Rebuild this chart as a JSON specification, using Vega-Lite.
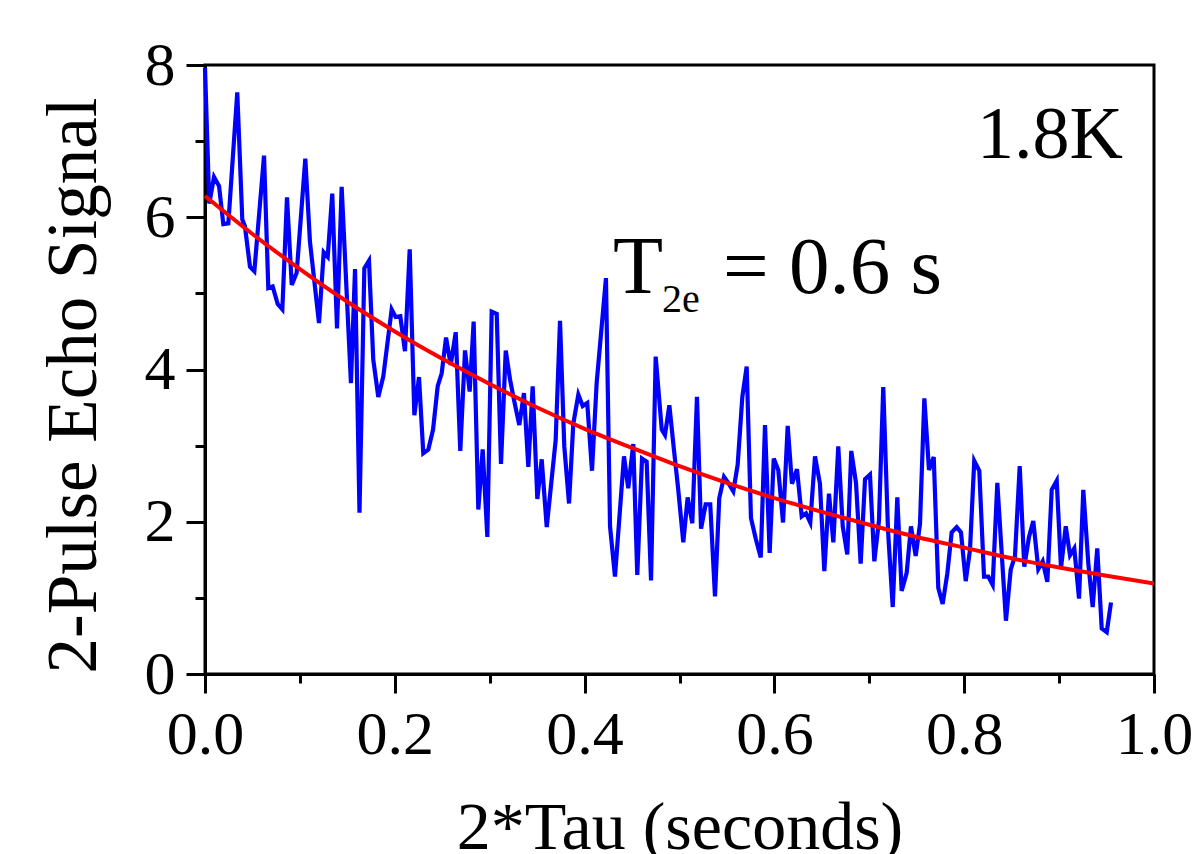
{
  "$schema": "https://vega.github.io/schema/vega-lite/v6.json",
  "width": 949,
  "height": 609,
  "autosize": {"type": "none"},
  "padding": {"left": 205, "top": 65, "right": 40, "bottom": 180},
  "background": "white",
  "config": {"view": {"stroke": "black", "strokeWidth": 3}, "font": "Liberation Serif"},
  "datasets": {
    "echo": [
      {"t":0.0,"s":7.96},{"t":0.0045,"s":6.18},{"t":0.0095,"s":6.53},{"t":0.0148,"s":6.41},{"t":0.0193,"s":5.91},{"t":0.0246,"s":5.92},{"t":0.034,"s":7.64},{"t":0.0393,"s":5.97},{"t":0.0421,"s":5.88},{"t":0.0474,"s":5.35},{"t":0.052,"s":5.29},{"t":0.0622,"s":6.81},{"t":0.0667,"s":5.07},{"t":0.0713,"s":5.09},{"t":0.0766,"s":4.86},{"t":0.0815,"s":4.79},{"t":0.0864,"s":6.26},{"t":0.0914,"s":5.11},{"t":0.0966,"s":5.27},{"t":0.1057,"s":6.77},{"t":0.1106,"s":5.68},{"t":0.1201,"s":4.61},{"t":0.1251,"s":5.54},{"t":0.1293,"s":5.48},{"t":0.1341,"s":6.31},{"t":0.1391,"s":4.54},{"t":0.144,"s":6.4},{"t":0.1538,"s":3.82},{"t":0.1581,"s":5.32},{"t":0.1628,"s":2.12},
      {"t":0.1679,"s":5.33},{"t":0.1728,"s":5.43},{"t":0.1773,"s":4.13},{"t":0.1826,"s":3.64},{"t":0.1879,"s":3.91},{"t":0.1967,"s":4.79},{"t":0.2009,"s":4.69},{"t":0.2058,"s":4.7},{"t":0.2107,"s":4.24},{"t":0.2157,"s":5.58},{"t":0.2206,"s":3.4},{"t":0.2255,"s":3.9},{"t":0.23,"s":2.9},{"t":0.2353,"s":2.95},{"t":0.2403,"s":3.21},{"t":0.2452,"s":3.78},{"t":0.2494,"s":3.95},{"t":0.254,"s":4.42},{"t":0.2589,"s":4.06},{"t":0.2642,"s":4.49},{"t":0.269,"s":2.93},{"t":0.274,"s":4.25},{"t":0.2789,"s":3.71},{"t":0.2831,"s":4.63},{"t":0.288,"s":2.16},{"t":0.2926,"s":2.95},{"t":0.2975,"s":1.8},{"t":0.3021,"s":4.76},{"t":0.3074,"s":4.73},{"t":0.3119,"s":2.76},{"t":0.3169,"s":4.25},{"t":0.3214,"s":3.87},
      {"t":0.3256,"s":3.6},{"t":0.3312,"s":3.27},{"t":0.3361,"s":3.69},{"t":0.3407,"s":2.72},{"t":0.3453,"s":3.78},{"t":0.3502,"s":2.3},{"t":0.3548,"s":2.82},{"t":0.3601,"s":1.93},{"t":0.3695,"s":3.07},{"t":0.3741,"s":4.64},{"t":0.3786,"s":2.99},{"t":0.3836,"s":2.24},{"t":0.3881,"s":3.29},{"t":0.3934,"s":3.67},{"t":0.398,"s":3.52},{"t":0.4028,"s":3.56},{"t":0.4078,"s":2.67},{"t":0.4127,"s":3.82},{"t":0.4225,"s":5.2},{"t":0.4268,"s":1.94},{"t":0.432,"s":1.28},{"t":0.4415,"s":2.86},{"t":0.446,"s":2.44},{"t":0.4513,"s":3.02},{"t":0.4555,"s":1.3},{"t":0.4605,"s":2.83},{"t":0.4654,"s":2.79},{"t":0.47,"s":1.23},{"t":0.4749,"s":4.17},{"t":0.4813,"s":3.21},{"t":0.4847,"s":3.14},{"t":0.4893,"s":3.53},
      {"t":0.4942,"s":2.94},{"t":0.4987,"s":2.42},{"t":0.504,"s":1.73},{"t":0.5086,"s":2.32},{"t":0.5135,"s":1.98},{"t":0.5184,"s":3.64},{"t":0.5227,"s":1.91},{"t":0.5276,"s":2.23},{"t":0.5324,"s":2.23},{"t":0.5374,"s":1.02},{"t":0.5419,"s":2.31},{"t":0.5469,"s":2.59},{"t":0.5514,"s":2.51},{"t":0.5567,"s":2.4},{"t":0.5613,"s":2.75},{"t":0.5662,"s":3.64},{"t":0.5708,"s":4.04},{"t":0.5753,"s":2.05},{"t":0.5803,"s":1.78},{"t":0.5856,"s":1.53},{"t":0.5901,"s":3.27},{"t":0.595,"s":1.59},{"t":0.5993,"s":2.83},{"t":0.6041,"s":2.68},{"t":0.6091,"s":1.99},{"t":0.614,"s":3.26},{"t":0.6185,"s":2.5},{"t":0.6238,"s":2.69},{"t":0.6288,"s":2.07},{"t":0.6333,"s":2.11},{"t":0.6378,"s":1.99},{"t":0.6428,"s":2.86},{"t":0.648,"s":2.5},{"t":0.6526,"s":1.35},
      {"t":0.6575,"s":2.37},{"t":0.6621,"s":1.73},{"t":0.6673,"s":2.99},{"t":0.672,"s":1.94},{"t":0.6768,"s":1.57},{"t":0.681,"s":2.93},{"t":0.686,"s":2.51},{"t":0.6909,"s":1.45},{"t":0.6955,"s":2.56},{"t":0.7007,"s":2.62},{"t":0.7053,"s":1.48},{"t":0.7102,"s":2.02},{"t":0.7147,"s":3.77},{"t":0.7197,"s":1.89},{"t":0.7247,"s":0.88},{"t":0.7295,"s":2.32},{"t":0.7341,"s":1.09},{"t":0.7394,"s":1.33},{"t":0.7439,"s":1.94},{"t":0.7489,"s":1.55},{"t":0.7534,"s":1.97},{"t":0.758,"s":3.62},{"t":0.7629,"s":2.68},{"t":0.7679,"s":2.85},{"t":0.7727,"s":1.13},{"t":0.7773,"s":0.92},{"t":0.7822,"s":1.32},{"t":0.7868,"s":1.86},{"t":0.7921,"s":1.93},{"t":0.7966,"s":1.86},{"t":0.8016,"s":1.22},{"t":0.8061,"s":1.63},{"t":0.8106,"s":2.8},{"t":0.8159,"s":2.67},
      {"t":0.8209,"s":1.28},{"t":0.8254,"s":1.28},{"t":0.83,"s":1.17},{"t":0.8349,"s":2.51},{"t":0.8395,"s":1.59},{"t":0.844,"s":0.7},{"t":0.849,"s":1.37},{"t":0.8535,"s":1.55},{"t":0.8585,"s":2.73},{"t":0.8633,"s":1.41},{"t":0.8683,"s":1.8},{"t":0.8728,"s":2.01},{"t":0.8781,"s":1.38},{"t":0.8827,"s":1.48},{"t":0.8876,"s":1.21},{"t":0.8922,"s":2.42},{"t":0.8975,"s":2.54},{"t":0.902,"s":1.39},{"t":0.907,"s":1.94},{"t":0.9115,"s":1.56},{"t":0.916,"s":1.65},{"t":0.921,"s":0.99},{"t":0.9255,"s":2.42},{"t":0.9308,"s":1.45},{"t":0.9354,"s":0.88},{"t":0.9402,"s":1.65},{"t":0.9449,"s":0.6},{"t":0.9502,"s":0.55},{"t":0.9547,"s":0.94}
    ],
    "fit": [
      {"t":0.0,"s":6.28},{"t":0.05,"s":5.78},{"t":0.1,"s":5.32},{"t":0.15,"s":4.89},{"t":0.2,"s":4.5},{"t":0.25,"s":4.14},{"t":0.3,"s":3.81},{"t":0.35,"s":3.5},{"t":0.4,"s":3.22},{"t":0.45,"s":2.97},{"t":0.5,"s":2.73},{"t":0.55,"s":2.51},{"t":0.6,"s":2.31},{"t":0.65,"s":2.13},{"t":0.7,"s":1.96},{"t":0.75,"s":1.8},{"t":0.8,"s":1.66},{"t":0.85,"s":1.52},{"t":0.9,"s":1.4},{"t":0.95,"s":1.29},{"t":1.0,"s":1.19}
    ],
    "label18": [{"t":0.9673,"s":6.78,"label":"1.8K"}],
    "labelT": [{"t":0.4299,"s":5.006,"label":"T"}],
    "labelSub": [{"t":0.4816,"s":4.76,"label":"2e"}],
    "labelEq": [{"t":0.5458,"s":5.006,"label":"= 0.6 s"}]
  },
  "layer": [
    {
      "data": {"name": "echo"},
      "mark": {"type": "line", "color": "#0000ff", "strokeWidth": 4.2},
      "encoding": {
        "x": {
          "field": "t", "type": "quantitative",
          "scale": {"domain": [0, 1], "nice": false},
          "axis": {
            "title": "2*Tau (seconds)",
            "values": [0, 0.1, 0.2, 0.3, 0.4, 0.5, 0.6, 0.7, 0.8, 0.9, 1.0],
            "labelExpr": "round(datum.value*10) % 2 == 0 ? format(datum.value, '.1f') : ''",
            "tickSize": {"condition": {"test": "round(datum.value*10) % 2 == 0", "value": 19}, "value": 9},
            "tickWidth": 3, "tickColor": "black",
            "domainColor": "black", "domainWidth": 3,
            "grid": false,
            "labelFont": "Liberation Serif", "labelFontSize": 62, "labelColor": "black",
            "labelBaseline": "alphabetic", "labelPadding": 60,
            "labelFlush": false, "labelOverlap": false,
            "titleFont": "Liberation Serif", "titleFontSize": 68, "titleFontWeight": "normal", "titleColor": "black",
            "titleBaseline": "alphabetic", "titleY": 174
          }
        },
        "y": {
          "field": "s", "type": "quantitative",
          "scale": {"domain": [0, 8], "nice": false},
          "axis": {
            "title": "2-Pulse Echo Signal",
            "values": [0, 1, 2, 3, 4, 5, 6, 7, 8],
            "labelExpr": "datum.value % 2 == 0 ? format(datum.value, 'd') : ''",
            "tickSize": {"condition": {"test": "datum.value % 2 == 0", "value": 19}, "value": 10},
            "tickWidth": 3, "tickColor": "black",
            "domainColor": "black", "domainWidth": 3,
            "grid": false,
            "labelFont": "Liberation Serif", "labelFontSize": 62, "labelColor": "black",
            "labelPadding": 11, "labelFlush": false, "labelOverlap": false,
            "titleFont": "Liberation Serif", "titleFontSize": 71, "titleFontWeight": "normal", "titleColor": "black",
            "titleAngle": -90, "titleBaseline": "alphabetic", "titleAlign": "center",
            "titleX": -110, "titleY": 320
          }
        }
      }
    },
    {
      "data": {"name": "fit"},
      "mark": {"type": "line", "color": "#ff0000", "strokeWidth": 4, "interpolate": "monotone"},
      "encoding": {
        "x": {"field": "t", "type": "quantitative"},
        "y": {"field": "s", "type": "quantitative"}
      }
    },
    {
      "data": {"name": "label18"},
      "mark": {"type": "text", "font": "Liberation Serif", "fontSize": 74, "align": "right", "baseline": "alphabetic", "color": "black"},
      "encoding": {
        "x": {"field": "t", "type": "quantitative"},
        "y": {"field": "s", "type": "quantitative"},
        "text": {"field": "label"}
      }
    },
    {
      "data": {"name": "labelT"},
      "mark": {"type": "text", "font": "Liberation Serif", "fontSize": 82, "align": "left", "baseline": "alphabetic", "color": "black"},
      "encoding": {
        "x": {"field": "t", "type": "quantitative"},
        "y": {"field": "s", "type": "quantitative"},
        "text": {"field": "label"}
      }
    },
    {
      "data": {"name": "labelSub"},
      "mark": {"type": "text", "font": "Liberation Serif", "fontSize": 40, "align": "left", "baseline": "alphabetic", "color": "black"},
      "encoding": {
        "x": {"field": "t", "type": "quantitative"},
        "y": {"field": "s", "type": "quantitative"},
        "text": {"field": "label"}
      }
    },
    {
      "data": {"name": "labelEq"},
      "mark": {"type": "text", "font": "Liberation Serif", "fontSize": 81, "align": "left", "baseline": "alphabetic", "color": "black"},
      "encoding": {
        "x": {"field": "t", "type": "quantitative"},
        "y": {"field": "s", "type": "quantitative"},
        "text": {"field": "label"}
      }
    }
  ]
}
